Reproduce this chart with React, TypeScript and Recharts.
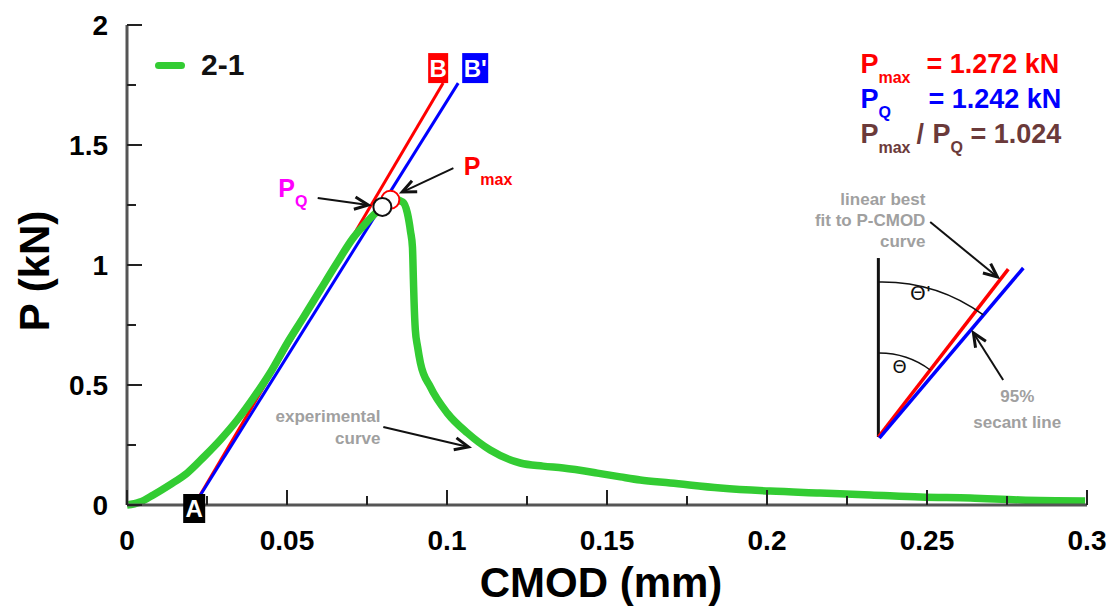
import React from "react";
import { LineChart, Line, XAxis, YAxis, ReferenceLine, ReferenceDot, Legend } from "recharts";

const FONT = '"Liberation Sans", Arial, Helvetica, sans-serif';
const GREEN = "#33cc33";
const RED = "#ff0000";
const BLUE = "#0000ff";
const BROWN = "#6b3a3a";
const GREY = "#a0a0a0";
const INK = "#111";

// specimen 2-1: CMOD (mm) and load P (kN)
const cmod = [
  0, 0.004, 0.0082, 0.0135, 0.0188, 0.024, 0.0292, 0.0345, 0.0395, 0.045, 0.0501, 0.0552,
  0.0604, 0.0655, 0.0707, 0.074, 0.077, 0.0798, 0.082, 0.084, 0.0862, 0.0876, 0.0886, 0.0892,
  0.0895, 0.0897, 0.0901, 0.0908, 0.0917, 0.0948, 0.1001, 0.1064, 0.1135, 0.1229, 0.13, 0.1363,
  0.147, 0.1542, 0.1604, 0.1698, 0.1854, 0.201, 0.2166, 0.2323, 0.2479, 0.2635, 0.2791, 0.2994,
];
const load = [
  0, 0.012, 0.042, 0.085, 0.133, 0.2, 0.272, 0.355, 0.446, 0.556, 0.675, 0.783,
  0.896, 1.006, 1.113, 1.165, 1.208, 1.24, 1.262, 1.272, 1.262, 1.217, 1.14, 1.075,
  0.94, 0.85, 0.73, 0.66, 0.592, 0.492, 0.383, 0.3, 0.229, 0.175, 0.162, 0.154,
  0.133, 0.117, 0.104, 0.092, 0.071, 0.058, 0.05, 0.042, 0.033, 0.029, 0.021, 0.017,
];
const curve = cmod.map((x, i) => ({ x, p: load[i] }));

// linear best fit (A-B) and 95% secant (A-B')
const fitCmod = [0.021, 0.0988];
const fitLoad = [0, 1.758];
const secantCmod = [0.021, 0.1035];
const secantLoad = [0, 1.758];
const fitLine = fitCmod.map((x, i) => ({ x, p: fitLoad[i] }));
const secantLine = secantCmod.map((x, i) => ({ x, p: secantLoad[i] }));

const pMax = { x: 0.0823, p: 1.272 };
const pQ = { x: 0.0798, p: 1.242 };

const xMajor = [0, 0.05, 0.1, 0.15, 0.2, 0.25, 0.3];
const xMinor = [0.025, 0.075, 0.125, 0.175, 0.225, 0.275];
const yMajor = [0, 0.5, 1, 1.5, 2];
const yMinor = [0.25, 0.75, 1.25, 1.75];
const xTicks = [...xMajor, ...xMinor].sort((a, b) => a - b);
const yTicks = [...yMajor, ...yMinor].sort((a, b) => a - b);

const XTick = (props: any) => {
  const { x, y, payload } = props;
  const major = xMajor.includes(payload.value);
  return (
    <g>
      <line x1={x} y1={y} x2={x} y2={y - (major ? 15 : 9)} stroke="#222" strokeWidth={2} />
      {major && (
        <text x={x} y={y + 45} textAnchor="middle" fontFamily={FONT} fontWeight="bold" fontSize={28} fill="#000">
          {payload.value}
        </text>
      )}
    </g>
  );
};

const YTick = (props: any) => {
  const { x, y, payload } = props;
  const major = yMajor.includes(payload.value);
  return (
    <g>
      <line x1={x} y1={y} x2={x + (major ? 15 : 9)} y2={y} stroke="#222" strokeWidth={2} />
      {major && (
        <text x={x - 19} y={y} dy="0.36em" textAnchor="end" fontFamily={FONT} fontWeight="bold" fontSize={28} fill="#000">
          {payload.value}
        </text>
      )}
    </g>
  );
};

const Arrow = (props: any) => {
  const { x1, y1, x2, y2 } = props;
  const a = Math.atan2(y2 - y1, x2 - x1);
  const h = 15;
  const w = 0.42;
  const p1 = `${x2 - h * Math.cos(a - w)},${y2 - h * Math.sin(a - w)}`;
  const p2 = `${x2 - h * Math.cos(a + w)},${y2 - h * Math.sin(a + w)}`;
  return (
    <g>
      <line x1={x1} y1={y1} x2={x2} y2={y2} stroke={INK} strokeWidth={2} />
      <polyline points={`${p1} ${x2},${y2} ${p2}`} fill="none" stroke={INK} strokeWidth={3} strokeLinejoin="miter" />
    </g>
  );
};

const Seg = (color: string, width: number) => (props: any) => (
  <line x1={props.x1} y1={props.y1} x2={props.x2} y2={props.y2} stroke={color} strokeWidth={width} />
);

const Arc = (props: any) => {
  const { x1, y1, x2, y2 } = props;
  const r = Math.hypot(x2 - x1, y2 - y1) / 0.635;
  return <path d={`M${x1},${y1} A${r},${r} 0 0 1 ${x2},${y2}`} fill="none" stroke={INK} strokeWidth={1.5} />;
};

const sub = (x: number, y: number, big: string, small: string, color: string, size: number, subSize: number) => (
  <g fontFamily={FONT} fontWeight="bold" fill={color}>
    <text x={x} y={y} fontSize={size}>{big}</text>
    <text x={x + size * 0.667} y={y + 10} fontSize={subSize}>{small}</text>
  </g>
);

const Stats = (props: any) => {
  const { cx, cy } = props;
  return (
    <g fontFamily={FONT} fontWeight="bold">
      {sub(cx, cy, "P", "max", RED, 27, 16)}
      <text x={cx + 66} y={cy} fontSize={27} fill={RED}>= 1.272 kN</text>
      {sub(cx, cy + 35, "P", "Q", BLUE, 27, 16)}
      <text x={cx + 68} y={cy + 35} fontSize={27} fill={BLUE}>= 1.242 kN</text>
      {sub(cx, cy + 70, "P", "max", BROWN, 27, 16)}
      <text x={cx + 56} y={cy + 70} fontSize={27} fill={BROWN}>/</text>
      {sub(cx + 72, cy + 70, "P", "Q", BROWN, 27, 16)}
      <text x={cx + 110} y={cy + 70} fontSize={27} fill={BROWN}>= 1.024</text>
    </g>
  );
};

const PmaxLabel = (props: any) => sub(props.cx, props.cy, "P", "max", RED, 25, 16);
const PqLabel = (props: any) => sub(props.cx, props.cy, "P", "Q", "#ff00ff", 25, 16);

const GreyLines = (lines: string[], anchor: "start" | "middle" | "end", gap: number) => (props: any) => (
  <text fontFamily={FONT} fontWeight="bold" fontSize={17} fill={GREY} textAnchor={anchor}>
    {lines.map((l, i) => (
      <tspan key={i} x={props.cx} y={props.cy + i * gap}>{l}</tspan>
    ))}
  </text>
);

const Tag = (text: string, color: string, dx0: number, dx1: number, dy0: number, dy1: number, size: number) => (props: any) => {
  const { cx, cy } = props;
  return (
    <g>
      <rect x={cx + dx0} y={cy + dy0} width={dx1 - dx0} height={dy1 - dy0} fill={color} />
      <text
        x={cx + (dx0 + dx1) / 2}
        y={cy + dy1 - (dy1 - dy0 - size * 0.72) / 2}
        textAnchor="middle"
        fontFamily={FONT}
        fontWeight="bold"
        fontSize={size}
        fill="#fff"
      >
        {text}
      </text>
    </g>
  );
};

const Theta = (text: string, size: number) => (props: any) => (
  <text x={props.cx} y={props.cy} dy="0.35em" textAnchor="middle" fontFamily="'DejaVu Sans', sans-serif" fontSize={size} fill={INK}>
    {text}
  </text>
);

const LegendBox = () => (
  <div style={{ display: "flex", alignItems: "center", fontFamily: FONT }}>
    <span style={{ display: "inline-block", width: 30, height: 7, background: GREEN, borderRadius: 4 }} />
    <span style={{ marginLeft: 16, fontWeight: "bold", fontSize: 30, lineHeight: "30px", color: "#111" }}>2-1</span>
  </div>
);

export default function App() {
  return (
    <div style={{ position: "absolute", left: 0, top: 0, background: "#fff" }}>
      <LineChart width={1119} height={609} margin={{ top: 25, right: 32, left: 67, bottom: 44 }}>
        <XAxis
          dataKey="x"
          type="number"
          domain={[0, 0.3]}
          ticks={xTicks}
          interval={0}
          tick={<XTick />}
          tickSize={0}
          tickMargin={0}
          tickLine={false}
          height={60}
          axisLine={{ stroke: "#555", strokeWidth: 3 }}
          label={{
            content: (p: any) => (
              <text x={p.viewBox.x + p.viewBox.width / 2 - 6} y={p.viewBox.y + 92} textAnchor="middle" fontFamily={FONT} fontWeight="bold" fontSize={42} fill="#000">
                CMOD (mm)
              </text>
            ),
          }}
        />
        <XAxis xAxisId="top" orientation="top" dataKey="x" type="number" domain={[0, 0.3]} height={0} tick={false} tickLine={false} axisLine={{ stroke: "#555", strokeWidth: 3 }} />
        <YAxis
          type="number"
          domain={[0, 2]}
          ticks={yTicks}
          interval={0}
          tick={<YTick />}
          tickSize={0}
          tickMargin={0}
          tickLine={false}
          width={60}
          axisLine={{ stroke: "#555", strokeWidth: 3 }}
          label={{
            content: (p: any) => {
              const x = p.viewBox.x - 18;
              const y = p.viewBox.y + p.viewBox.height / 2 + 6;
              return (
                <text x={x} y={y} transform={`rotate(-90, ${x}, ${y})`} textAnchor="middle" fontFamily={FONT} fontWeight="bold" fontSize={42} fill="#000">
                  P (kN)
                </text>
              );
            },
          }}
        />
        <YAxis yAxisId="right" orientation="right" type="number" domain={[0, 2]} width={0} tick={false} tickLine={false} axisLine={{ stroke: "#555", strokeWidth: 3 }} />

        <Legend
          layout="horizontal"
          verticalAlign="middle"
          align="center"
          content={<LegendBox />}
          wrapperStyle={{ position: "absolute", left: 155, top: 50, width: "auto", height: "auto" }}
        />

        <Line data={fitLine} dataKey="p" stroke={RED} strokeWidth={3} dot={false} activeDot={false} isAnimationActive={false} legendType="none" />
        <Line data={secantLine} dataKey="p" stroke={BLUE} strokeWidth={3} dot={false} activeDot={false} isAnimationActive={false} legendType="none" />
        <Line type="monotone" data={curve} dataKey="p" name="2-1" stroke={GREEN} strokeWidth={7.5} dot={false} activeDot={false} isAnimationActive={false} strokeLinejoin="round" />

        <ReferenceDot x={pMax.x} y={pMax.p} r={9} fill="#fff" stroke={RED} strokeWidth={2} ifOverflow="visible" />
        <ReferenceDot x={pQ.x} y={pQ.p} r={9} fill="#fff" stroke={INK} strokeWidth={2} ifOverflow="visible" />

        {/* line end tags */}
        <ReferenceDot x={fitCmod[1]} y={fitLoad[1]} r={0} ifOverflow="visible" shape={Tag("B", RED, -15, 5, -30, 0, 24)} />
        <ReferenceDot x={secantCmod[1]} y={secantLoad[1]} r={0} ifOverflow="visible" shape={Tag("B'", BLUE, 4, 30, -30, 0, 24)} />
        <ReferenceDot x={fitCmod[0]} y={fitLoad[0]} r={0} ifOverflow="visible" shape={Tag("A", "#000", -11, 11, -11, 18, 24)} />

        {/* annotations */}
        <ReferenceDot x={0.2292} y={1.8} r={0} ifOverflow="visible" shape={<Stats />} />
        <ReferenceDot x={0.1052} y={1.375} r={0} ifOverflow="visible" shape={<PmaxLabel />} />
        <ReferenceDot x={0.0473} y={1.283} r={0} ifOverflow="visible" shape={<PqLabel />} />
        <ReferenceLine segment={[{ x: 0.0596, y: 1.279 }, { x: 0.0754, y: 1.25 }]} ifOverflow="visible" shape={<Arrow />} />
        <ReferenceLine segment={[{ x: 0.102, y: 1.404 }, { x: 0.086, y: 1.304 }]} ifOverflow="visible" shape={<Arrow />} />
        <ReferenceDot x={0.0792} y={0.346} r={0} ifOverflow="visible" shape={GreyLines(["experimental", "curve"], "end", 22)} />
        <ReferenceLine segment={[{ x: 0.0801, y: 0.325 }, { x: 0.1067, y: 0.242 }]} ifOverflow="visible" shape={<Arrow />} />

        {/* inset sketch */}
        <ReferenceLine segment={[{ x: 0.2348, y: 0.2833 }, { x: 0.2348, y: 1.029 }]} ifOverflow="visible" shape={Seg(INK, 3)} />
        <ReferenceLine segment={[{ x: 0.2348, y: 0.2833 }, { x: 0.2754, y: 0.983 }]} ifOverflow="visible" shape={Seg(RED, 3.5)} />
        <ReferenceLine segment={[{ x: 0.2351, y: 0.279 }, { x: 0.2801, y: 0.9875 }]} ifOverflow="visible" shape={Seg(BLUE, 3.5)} />
        <ReferenceLine segment={[{ x: 0.2348, y: 0.929 }, { x: 0.2676, y: 0.792 }]} ifOverflow="visible" shape={<Arc />} />
        <ReferenceLine segment={[{ x: 0.2348, y: 0.633 }, { x: 0.251, y: 0.5625 }]} ifOverflow="visible" shape={<Arc />} />
        <ReferenceDot x={0.248} y={0.883} r={0} ifOverflow="visible" shape={Theta("Θ'", 20)} />
        <ReferenceDot x={0.2414} y={0.575} r={0} ifOverflow="visible" shape={Theta("Θ", 18)} />
        <ReferenceDot x={0.2495} y={1.25} r={0} ifOverflow="visible" shape={GreyLines(["linear best", "fit to P-CMOD", "curve"], "end", 21)} />
        <ReferenceLine segment={[{ x: 0.251, y: 1.179 }, { x: 0.272, y: 0.95 }]} ifOverflow="visible" shape={<Arrow />} />
        <ReferenceDot x={0.2782} y={0.429} r={0} ifOverflow="visible" shape={GreyLines(["95%", "secant line"], "middle", 26)} />
        <ReferenceLine segment={[{ x: 0.2738, y: 0.521 }, { x: 0.2645, y: 0.717 }]} ifOverflow="visible" shape={<Arrow />} />
      </LineChart>
    </div>
  );
}
